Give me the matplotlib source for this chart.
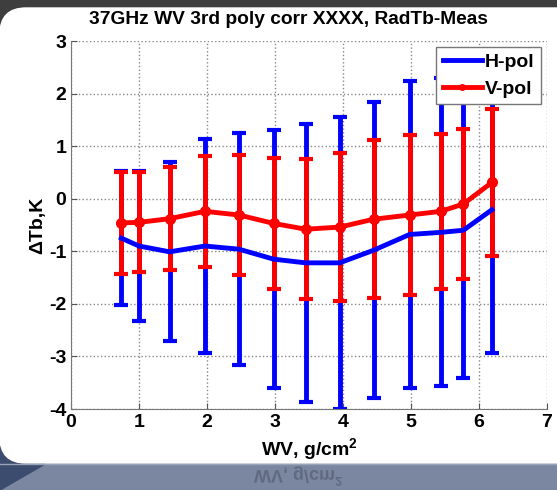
import matplotlib
matplotlib.use("Agg")
import matplotlib.pyplot as plt
from matplotlib.patches import Rectangle, FancyBboxPatch, Polygon, PathPatch
from matplotlib.lines import Line2D
from matplotlib.textpath import TextPath
from matplotlib.font_manager import FontProperties

plt.rcParams['font.family'] = ['Liberation Sans', 'DejaVu Sans']
plt.rcParams['font.weight'] = 'bold'
plt.rcParams['mathtext.fontset'] = 'custom'
plt.rcParams['mathtext.bf'] = 'Liberation Sans:bold'
plt.rcParams['mathtext.rm'] = 'Liberation Sans:bold'
plt.rcParams['axes.unicode_minus'] = False

# data
wv = [0.74, 1.0, 1.45, 1.97, 2.47, 2.98, 3.45, 3.95, 4.45, 4.98, 5.44, 5.77, 6.19]
h_mean = [-0.75, -0.90, -1.01, -0.90, -0.96, -1.15, -1.22, -1.22, -0.98, -0.68, -0.64, -0.60, -0.21]
h_err = [1.27, 1.42, 1.70, 2.03, 2.21, 2.45, 2.65, 2.78, 2.82, 2.92, 2.93, 2.81, 2.72]
v_mean = [-0.46, -0.45, -0.38, -0.24, -0.31, -0.47, -0.58, -0.54, -0.39, -0.31, -0.24, -0.10, 0.31]
v_err = [0.97, 0.95, 0.98, 1.05, 1.14, 1.24, 1.33, 1.41, 1.50, 1.53, 1.48, 1.42, 1.40]

fig = plt.figure(figsize=(5.57, 4.90), dpi=100)

# slide background behind the figure
bg = fig.add_axes([0, 0, 1, 1], zorder=-5)
bg.set_xlim(0, 557)
bg.set_ylim(490, 0)
bg.axis('off')
bg.add_patch(Rectangle((0, 0), 557, 490, color='#7b87a1'))
bg.add_patch(Rectangle((0, 0), 557, 8, color='#3e3e3e'))
bg.add_patch(Rectangle((0, 0), 40, 40, color='#3e3e3e'))
bg.add_patch(Polygon([(0, 430), (45, 464), (0, 490)], color='#3b4c6e'))
bg.add_patch(FancyBboxPatch((0, 8), 620, 455, boxstyle='round,pad=0,rounding_size=26',
                            color='white'))
bg.plot([0, 557], [464, 464], color='#9aa4b8', lw=1)
tp = TextPath((0, 0), 'WV, g/cm$^{2}$', size=18, prop=FontProperties(family='Liberation Sans', weight='bold'))
bg.add_patch(PathPatch(tp.transformed(matplotlib.transforms.Affine2D().translate(254, 470)),
                       color='#4a5266', alpha=0.55, lw=0))

ax = fig.add_axes([71/557, 1 - 409/490, 476/557, 368/490])
ax.errorbar(wv, h_mean, yerr=h_err, color='#0000ff', lw=3.5, elinewidth=3.5,
            capsize=5, capthick=3)
ax.errorbar(wv, v_mean, yerr=v_err, color='#ff0000', lw=3.5, elinewidth=3.5,
            capsize=5, capthick=3, marker='o', markersize=7)

ax.set_xlim(0, 7)
ax.set_ylim(-4, 3)
ax.set_xticks(range(0, 8))
ax.set_yticks(range(-4, 4))
ax.grid(True, linestyle=':', color='#888888', lw=1)
ax.tick_params(direction='in', length=4, labelsize=14, colors='#555555', labelcolor='black')
for lab in ax.get_xticklabels() + ax.get_yticklabels():
    lab.set_fontweight('bold')
ax.spines['top'].set_visible(False)
ax.spines['right'].set_visible(False)
ax.spines['left'].set_color('#777777')
ax.spines['bottom'].set_color('#777777')

ax.set_title('37GHz WV 3rd poly corr XXXX, RadTb-Meas', fontsize=13.8, fontweight='bold', x=0.457, pad=12)
ax.set_xlabel('WV, g/cm$^{2}$', fontsize=14, fontweight='bold', labelpad=4)
ax.set_ylabel('\u0394Tb,K', fontsize=14, fontweight='bold', labelpad=2)

handles = [Line2D([], [], color='#0000ff', lw=3.5),
           Line2D([], [], color='#ff0000', lw=3.5, marker='o', markersize=4)]
leg = ax.legend(handles, ['H-pol', 'V-pol'], loc='upper right', fontsize=14, handlelength=2.0,
                borderaxespad=0.3, fancybox=False, edgecolor='#777777', framealpha=1,
                borderpad=0.35, handletextpad=0.15, labelspacing=0.45)
for t in leg.get_texts():
    t.set_fontweight('bold')

fig.savefig('out.png', dpi=100)
